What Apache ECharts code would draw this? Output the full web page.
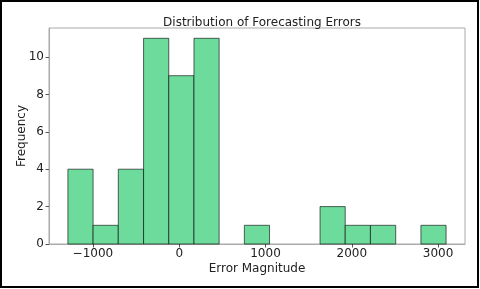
<!DOCTYPE html>
<html>
<head>
<meta charset="utf-8">
<script src="https://cdn.jsdelivr.net/npm/echarts@6/dist/echarts.min.js"></script>
<style>
html,body{margin:0;padding:0;background:#fff;}
#c{width:480px;height:289px;}
</style>
</head>
<body>
<div id="c"></div>
<script>
var binEdges = [-1290, -998, -706, -413, -121, 171, 463, 755, 1047, 1340, 1632, 1924, 2216, 2509, 2801, 3093];
var counts = [4, 1, 4, 11, 9, 11, 0, 1, 0, 0, 2, 1, 1, 0, 1];
var xTicks = [-1000, 0, 1000, 2000, 3000];
var yTicks = [0, 2, 4, 6, 8, 10];

var data = [];
for (var i = 0; i < counts.length; i++) {
  if (counts[i] > 0) data.push([binEdges[i], binEdges[i + 1], counts[i]]);
}
var font = 'DejaVu Sans';
var chart = echarts.init(document.getElementById('c'), null, {renderer: 'canvas'});
chart.setOption({
  animation: false,
  title: {
    text: 'Distribution of Forecasting Errors',
    left: 257, top: 12, textAlign: 'center',
    textStyle: {fontFamily: font, fontSize: 12, fontWeight: 'normal', color: '#222'}
  },
  grid: {left: 49, right: 15, top: 28, bottom: 45, show: true, borderColor: '#aaa', borderWidth: 1, backgroundColor: 'transparent'},
  xAxis: {
    type: 'value', min: -1509, max: 3312,
    name: 'Error Magnitude', nameLocation: 'middle', nameGap: 18.5, nameMoveOverlap: false,
    nameTextStyle: {fontFamily: font, fontSize: 12, color: '#222'},
    axisLine: {show: true, onZero: false, lineStyle: {color: '#aaa'}},
    axisTick: {show: true, length: 3.5, customValues: xTicks, lineStyle: {color: '#555'}},
    axisLabel: {customValues: xTicks, fontFamily: font, fontSize: 12, color: '#222', margin: 4,
      formatter: function (v) { return v < 0 ? '\u2212' + Math.abs(v) : String(v); }},
    splitLine: {show: false}
  },
  yAxis: {
    type: 'value', min: 0, max: 11.55,
    name: 'Frequency', nameLocation: 'middle', nameGap: 21, nameMoveOverlap: false,
    nameTextStyle: {fontFamily: font, fontSize: 12, color: '#222'},
    axisLine: {show: true, onZero: false, lineStyle: {color: '#aaa'}},
    axisTick: {show: true, length: 3.5, customValues: yTicks, lineStyle: {color: '#555'}},
    axisLabel: {customValues: yTicks, fontFamily: font, fontSize: 12, color: '#222', margin: 5},
    splitLine: {show: false}
  },
  graphic: [{
    type: 'rect', z: 100, silent: true,
    shape: {x: 1, y: 1, width: 477, height: 286},
    style: {fill: 'none', stroke: '#000', lineWidth: 2}
  }],
  series: [{
    type: 'custom',
    data: data,
    encode: {x: [0, 1], y: 2},
    renderItem: function (params, api) {
      var p0 = api.coord([api.value(0), api.value(2)]);
      var p1 = api.coord([api.value(1), 0]);
      return {
        type: 'rect',
        shape: {x: p0[0], y: p0[1], width: p1[0] - p0[0], height: p1[1] - p0[1]},
        style: {fill: '#6ddb9c', stroke: 'rgba(0,0,0,0.6)', lineWidth: 1}
      };
    }
  }]
});
</script>
</body>
</html>
